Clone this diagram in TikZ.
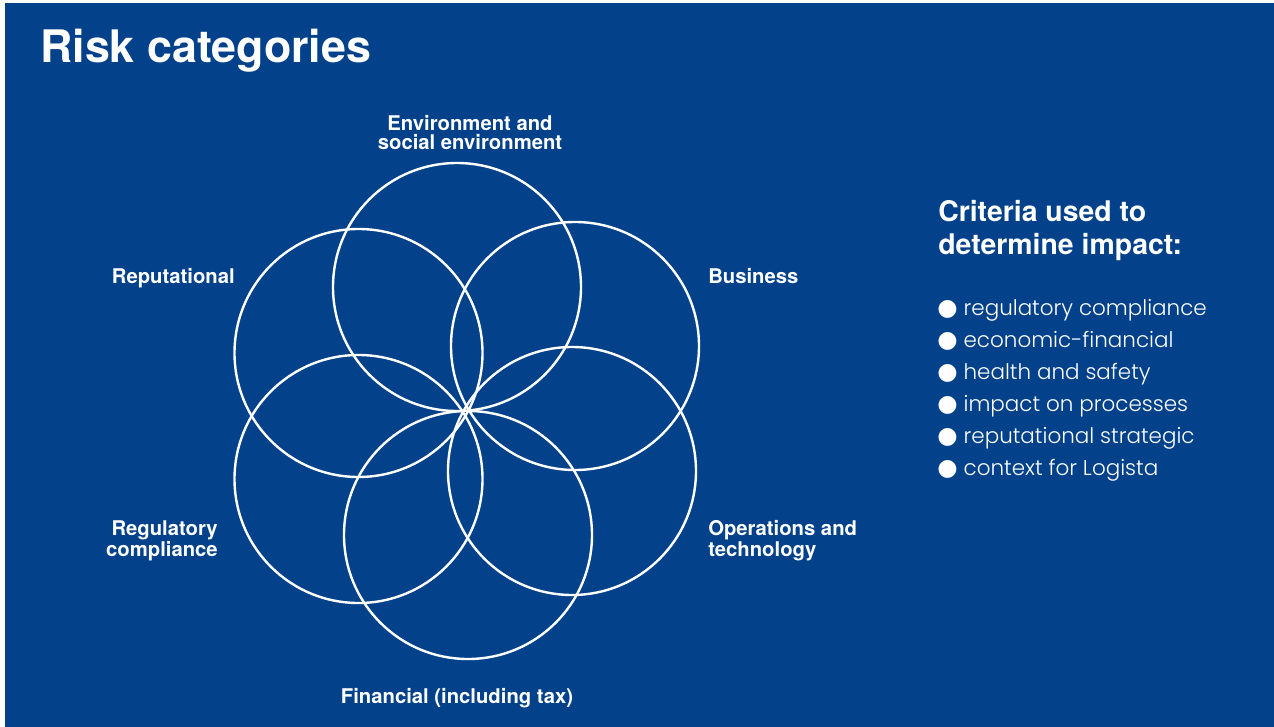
\documentclass[tikz,border=0pt]{standalone}
\usepackage{fontspec}
\setmainfont{TeX Gyre Heros}
\newfontfamily\listfont{Poppins Light}
\newfontfamily\symfont{DejaVu Sans}
\definecolor{riskblue}{RGB}{3,65,138}
\newcommand\bul{{\symfont\fontsize{17.5}{24}\selectfont ●}\hspace{4.5pt}}

\tikzset{
	petal/.style={circle, draw=white, line width=1.8pt, minimum size=186pt, inner sep=0pt},
	risk/.style={text=white, inner sep=0pt, font=\bfseries\fontsize{15.2}{14.25}\selectfont},
}

\begin{document}
\begin{tikzpicture}[x=0.75pt, y=-0.75pt]

	\useasboundingbox (0,0) rectangle (1274,727);
	\fill[white] (0,0) rectangle (1274,727);
	\fill[riskblue] (5,3) rectangle (1274,727);

	\node[text=white, inner sep=0pt, anchor=base west, font=\bfseries\fontsize{33.6}{36}\selectfont] (title) at (40,63) {Risk categories};

	\node[petal] (env) at (457,287) {};
	\node[petal] (bus) at (575,346) {};
	\node[petal] (ops) at (572,471) {};
	\node[petal] (fin) at (468,535) {};
	\node[petal] (reg) at (358.5,479) {};
	\node[petal] (rep) at (358.5,353) {};

	% two-line labels: base is the last line
	\node[risk, align=center, anchor=base] (envlabel) at (470,150) {Environment and\\social environment};
	\node[risk, anchor=base west] (buslabel) at (708,283) {Business};
	\node[risk, align=left, anchor=base west] (opslabel) at (708,556) {Operations and\\technology};
	\node[risk, anchor=base] (finlabel) at (457,703) {Financial (including tax)};
	\node[risk, align=right, anchor=base east] (reglabel) at (218,556) {Regulatory\\compliance};
	\node[risk, anchor=base east] (replabel) at (235,283) {Reputational};

	\node[text=white, inner sep=0pt, align=left, anchor=base west, font=\bfseries\fontsize{21.3}{24.75}\selectfont] (crithead) at (938,255) {Criteria used to\\determine impact:};
	\node[text=white, inner sep=0pt, align=left, anchor=base west, font=\listfont\fontsize{16.1}{24}\selectfont] (critlist) at (937,475) {\bul regulatory compliance\\\bul economic-financial\\\bul health and safety\\\bul impact on processes\\\bul reputational strategic\\\bul context for Logista};
\end{tikzpicture}
\end{document}
